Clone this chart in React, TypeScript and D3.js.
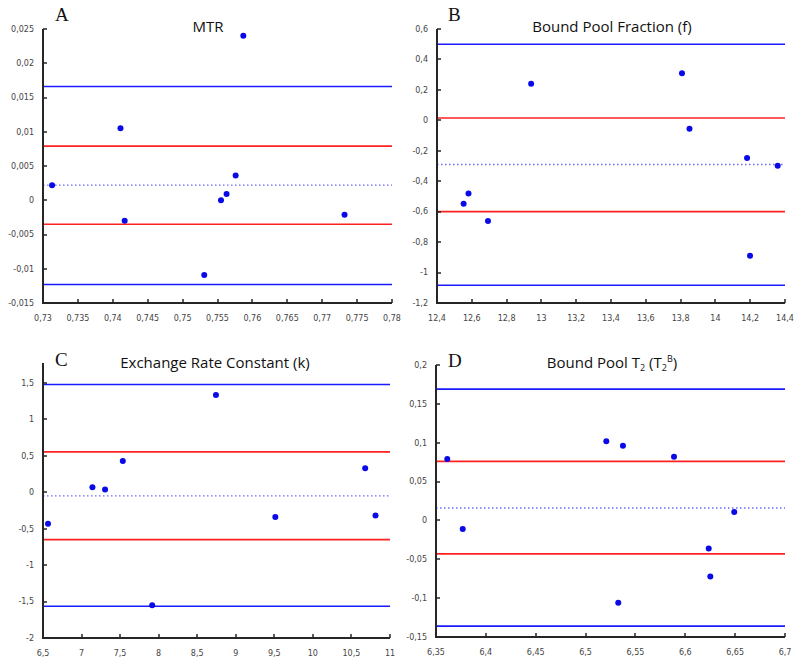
import React from "react";
import * as d3 from "d3";

// panel A - MTR
const mtrX = [0.7313, 0.7411, 0.7417, 0.7531, 0.7555, 0.7563, 0.7576, 0.7587, 0.7732];
const mtrY = [0.0022, 0.0105, -0.003, -0.0109, 0.0, 0.0009, 0.0036, 0.024, -0.0021];
const mtrLimits = [0.0166, 0.0079, 0.0022, -0.0035, -0.0123];
const mtrXTicks = [0.73, 0.735, 0.74, 0.745, 0.75, 0.755, 0.76, 0.765, 0.77, 0.775, 0.78];
const mtrYTicks = [-0.015, -0.01, -0.005, 0, 0.005, 0.01, 0.015, 0.02, 0.025];

// panel B - bound pool fraction
const bpfX = [12.553, 12.581, 12.693, 12.941, 13.808, 13.851, 14.182, 14.199, 14.358];
const bpfY = [-0.548, -0.48, -0.662, 0.24, 0.31, -0.056, -0.247, -0.89, -0.298];
const bpfLimits = [0.5, 0.015, -0.29, -0.6, -1.083];
const bpfXTicks = [12.4, 12.6, 12.8, 13, 13.2, 13.4, 13.6, 13.8, 14, 14.2, 14.4];
const bpfYTicks = [-1.2, -1, -0.8, -0.6, -0.4, -0.2, 0, 0.2, 0.4, 0.6];

// panel C - exchange rate constant
const ercX = [6.565, 7.141, 7.305, 7.535, 7.916, 8.743, 9.513, 10.678, 10.812];
const ercY = [-0.43, 0.07, 0.04, 0.43, -1.55, 1.335, -0.34, 0.33, -0.32];
const ercLimits = [1.48, 0.555, -0.05, -0.65, -1.565];
const ercXTicks = [6.5, 7, 7.5, 8, 8.5, 9, 9.5, 10, 10.5, 11];
const ercYTicks = [-2, -1.5, -1, -0.5, 0, 0.5, 1, 1.5];

// panel D - bound pool T2
const t2X = [6.3613, 6.3768, 6.5208, 6.5375, 6.5328, 6.5887, 6.6235, 6.6251, 6.6491];
const t2Y = [0.079, -0.011, 0.102, 0.096, -0.106, 0.082, -0.036, -0.072, 0.011];
const t2Limits = [0.169, 0.076, 0.016, -0.043, -0.136];
const t2XTicks = [6.35, 6.4, 6.45, 6.5, 6.55, 6.6, 6.65, 6.7];
const t2YTicks = [-0.15, -0.1, -0.05, 0, 0.05, 0.1, 0.15, 0.2];

const fmt = (v: number) => String(+v.toFixed(4)).replace(".", ",");
const lineColors = ["#1a1aff", "#ff2020", "#6a6aff", "#ff2020", "#1a1aff"];
const axisColor = "#262626";

type Box = { left: number; right: number; top: number; bottom: number };

const panels = [
  {
    id: "a",
    box: { left: 43, right: 392, top: 29, bottom: 303 } as Box,
    xDomain: [0.73, 0.78] as [number, number],
    yDomain: [-0.015, 0.025] as [number, number],
    xTicks: mtrXTicks,
    yTicks: mtrYTicks,
    xs: mtrX,
    ys: mtrY,
    limits: mtrLimits,
  },
  {
    id: "b",
    box: { left: 437, right: 785, top: 29, bottom: 303 } as Box,
    xDomain: [12.4, 14.4] as [number, number],
    yDomain: [-1.2, 0.6] as [number, number],
    xTicks: bpfXTicks,
    yTicks: bpfYTicks,
    xs: bpfX,
    ys: bpfY,
    limits: bpfLimits,
  },
  {
    id: "c",
    box: { left: 43, right: 390, top: 363, bottom: 638 } as Box,
    xDomain: [6.5, 11] as [number, number],
    yDomain: [-2, 1.775] as [number, number],
    xTicks: ercXTicks,
    yTicks: ercYTicks,
    xs: ercX,
    ys: ercY,
    limits: ercLimits,
  },
  {
    id: "d",
    box: { left: 436, right: 785, top: 365, bottom: 637 } as Box,
    xDomain: [6.35, 6.7] as [number, number],
    yDomain: [-0.15, 0.2] as [number, number],
    xTicks: t2XTicks,
    yTicks: t2YTicks,
    xs: t2X,
    ys: t2Y,
    limits: t2Limits,
  },
];

const scalesFor = (p: (typeof panels)[number]) => ({
  x: d3.scaleLinear().domain(p.xDomain).range([p.box.left, p.box.right]),
  y: d3.scaleLinear().domain(p.yDomain).range([p.box.bottom, p.box.top]),
});

const titleProps = {
  dy: "0.35em",
  textAnchor: "middle" as const,
  fontSize: 15,
  fontFamily: "Open Sans",
  fill: "#111",
};
const letterProps = { fontSize: 19, fontFamily: "Liberation Serif", fill: "#111" };

export default function App() {
  return (
    <svg width={800} height={665} style={{ position: "absolute", left: 0, top: 0 }}>
      {panels.map((p) => {
        const { x, y } = scalesFor(p);
        return p.limits.map((v, i) => (
          <line
            key={p.id + "l" + i}
            x1={x(p.xDomain[0])}
            x2={x(p.xDomain[1])}
            y1={y(v)}
            y2={y(v)}
            stroke={lineColors[i]}
            strokeWidth={i === 2 ? 1.3 : 1.6}
            strokeDasharray={i === 2 ? "1.5,2.5" : undefined}
          />
        ));
      })}
      {panels.map((p) => {
        const { x, y } = scalesFor(p);
        return p.xs.map((v, i) => (
          <circle key={p.id + "p" + i} cx={x(v)} cy={y(p.ys[i])} r={3} fill="#0a0ae8" />
        ));
      })}
      {panels.map((p) => {
        const { x, y } = scalesFor(p);
        return p.yTicks.map((t) => (
          <text
            key={p.id + "yt" + t}
            x={x(p.xDomain[0]) - 9}
            y={y(t)}
            dy="0.35em"
            textAnchor="end"
            fontSize={8}
            fontFamily="DejaVu Sans"
            fill="#444"
          >
            {fmt(t)}
          </text>
        ));
      })}
      {panels.map((p) => {
        const { x, y } = scalesFor(p);
        return p.xTicks.map((t) => (
          <text
            key={p.id + "xt" + t}
            x={x(t)}
            y={y(p.yDomain[0]) + 15}
            dy="0.35em"
            textAnchor="middle"
            fontSize={8}
            fontFamily="DejaVu Sans"
            fill="#444"
          >
            {fmt(t)}
          </text>
        ));
      })}
      <text x={208} y={27} {...titleProps}>MTR</text>
      <text x={612} y={27} {...titleProps}>Bound Pool Fraction (f)</text>
      <text x={215} y={363} {...titleProps}>Exchange Rate Constant (k)</text>
      <text x={612} y={363} {...titleProps}>
        Bound Pool T
        <tspan fontSize={9} dy="3">2</tspan>
        <tspan dy="-3"> (T</tspan>
        <tspan fontSize={9} dy="3">2</tspan>
        <tspan fontSize={9} dy="-9">B</tspan>
        <tspan dy="6">)</tspan>
      </text>
      <text x={55} y={21} {...letterProps}>A</text>
      <text x={448} y={21} {...letterProps}>B</text>
      <text x={55} y={366} {...letterProps}>C</text>
      <text x={448} y={367} {...letterProps}>D</text>
      {/* axes drawn last, on top of everything */}
      {panels.map((p) => {
        const { x, y } = scalesFor(p);
        const left = x(p.xDomain[0]);
        const right = x(p.xDomain[1]);
        const base = y(p.yDomain[0]);
        const top = y(p.yDomain[1]);
        return (
          <g key={p.id + "axes"}>
            <rect x={left - 1} y={top} width={2} height={base - top + 1} fill={axisColor} />
            <rect x={left - 1} y={base - 1} width={right - left + 1} height={2} fill={axisColor} />
            {p.yTicks.map((t) => (
              <rect key={"ym" + t} x={left} y={Math.round(y(t)) - 0.75} width={4} height={1.5} fill={axisColor} />
            ))}
            {p.xTicks.map((t) => (
              <rect key={"xm" + t} x={Math.round(x(t)) - 0.75} y={base - 4} width={1.5} height={4} fill={axisColor} />
            ))}
          </g>
        );
      })}
    </svg>
  );
}
